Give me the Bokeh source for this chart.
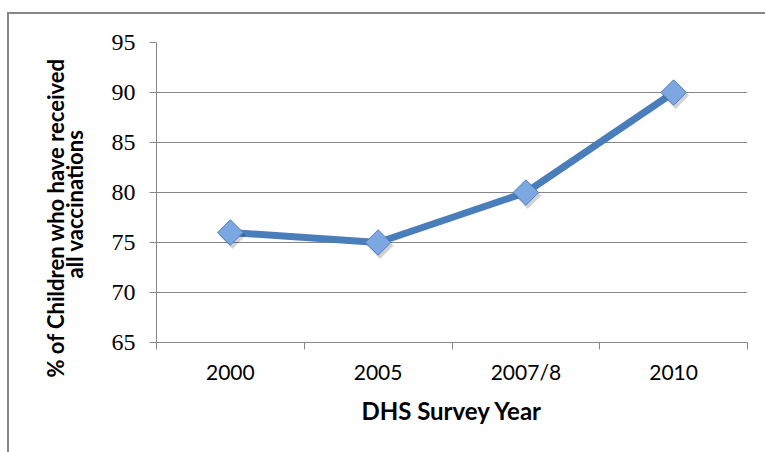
import math

from bokeh.embed import file_html
from bokeh.models import ColumnDataSource, FixedTicker, InlineStyleSheet, Range1d, Title
from bokeh.plotting import figure
from bokeh.resources import INLINE

# DHS survey rounds and share of children with all vaccinations (%)
years = ["2000", "2005", "2007/8", "2010"]
pct_vaccinated = [76, 75, 80, 90]
y_ticks = [65, 70, 75, 80, 85, 90, 95]

x_title = "DHS Survey Year"
y_title_lines = ["% of Children who have received", "all vaccinations"]

# each survey sits in the middle of its own slot; ticks mark the slot edges
x_pos = [i + 0.5 for i in range(len(years))]
slot_edges = list(range(len(years) + 1))

W, H = 765, 452
LEFT, RIGHT, TOP, BOTTOM = 156, 18, 42, 110
Y0, Y1 = y_ticks[0], y_ticks[-1]

px_x = (W - LEFT - RIGHT) / len(years)
px_y = (H - TOP - BOTTOM) / (Y1 - Y0)

GRAY = "#878787"
BLUE = "#4a7ebb"

# thin frame around the whole chart area (left and top edges fall inside the page)
frame_css = InlineStyleSheet(css="""
:host { position: relative; }
:host::after {
  content: "";
  position: absolute;
  left: 7px; top: 12px; right: 0; bottom: 0;
  border-left: 2px solid #878787;
  border-top: 2px solid #878787;
  pointer-events: none;
}
""")

p = figure(
    width=W, height=H,
    x_range=Range1d(0, len(years)), y_range=Range1d(Y0, Y1),
    output_backend="svg", toolbar_location=None,
    min_border_left=LEFT, min_border_right=RIGHT,
    min_border_top=TOP, min_border_bottom=BOTTOM,
)
p.stylesheets = [frame_css]
p.outline_line_color = None
p.background_fill_color = "white"
p.border_fill_color = "white"

p.xgrid.visible = False
p.ygrid.grid_line_color = GRAY
p.ygrid.grid_line_width = 1
p.ygrid.ticker = FixedTicker(ticks=y_ticks)

# y axis: serif numbers, outward ticks
yax = p.yaxis[0]
yax.ticker = FixedTicker(ticks=y_ticks)
yax.axis_line_color = GRAY
yax.major_tick_line_color = GRAY
yax.major_tick_out = 7
yax.major_tick_in = 0
yax.minor_tick_line_color = None
yax.major_label_text_font = "Liberation Serif"
yax.major_label_text_font_size = "24px"
yax.major_label_text_color = "black"
yax.major_label_standoff = 14

# x axis: labels at slot centres, short ticks at slot edges
xax = p.xaxis[0]
xax.ticker = FixedTicker(ticks=x_pos, minor_ticks=slot_edges)
xax.major_label_overrides = {x: name for x, name in zip(x_pos, years)}
xax.axis_line_color = GRAY
xax.major_tick_line_color = None
xax.major_tick_out = 0
xax.major_tick_in = 0
xax.minor_tick_line_color = GRAY
xax.minor_tick_out = 7
xax.minor_tick_in = 0
xax.major_label_text_font = "Lato"
xax.major_label_text_font_size = "21px"
xax.major_label_text_color = "black"
xax.major_label_standoff = 9
xax.axis_label = x_title
xax.axis_label_text_font = "Lato"
xax.axis_label_text_font_style = "bold"
xax.axis_label_text_font_size = "24px"
xax.axis_label_text_color = "black"
xax.axis_label_standoff = 9

src = ColumnDataSource(dict(x=x_pos, y=pct_vaccinated))

p.line("x", "y", source=src, line_color=BLUE, line_width=7, line_join="round")

# soft drop shadow under each marker
shadow = ColumnDataSource(dict(
    x=[x + 2 / px_x for x in x_pos],
    y=[y - 3 / px_y for y in pct_vaccinated],
))
p.scatter("x", "y", source=shadow, marker="square", size=19, angle=math.pi / 4,
          fill_color="#000000", fill_alpha=0.18, line_color=None)
p.scatter("x", "y", source=src, marker="square", size=18, angle=math.pi / 4,
          fill_color="#7ca7e0", line_color="#4f7fbf", line_width=1)

# two-line y title, stacked outward from the axis (second line sits nearest);
# each line is placed by its starting point along the axis, and the outer
# line is pulled back in so the pair reads as one tight block
for line, gap, shift in zip(reversed(y_title_lines), [41, -60], [64, -35]):
    p.add_layout(Title(
        text=line, align="left", offset=shift, standoff=gap,
        text_font="Lato", text_font_style="bold", text_font_size="22px",
        text_color="black",
    ), "left")

open("out.html", "w").write(file_html(p, INLINE))
